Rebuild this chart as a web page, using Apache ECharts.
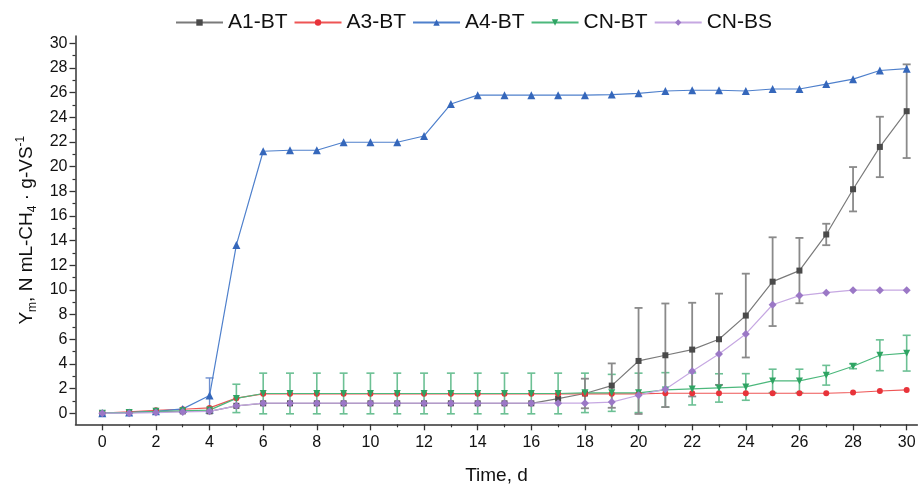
<!DOCTYPE html>
<html>
<head>
<meta charset="utf-8">
<script src="https://cdn.jsdelivr.net/npm/echarts@6/dist/echarts.min.js"></script>
<style>html,body{margin:0;padding:0;background:#fff}#c{width:920px;height:489px}</style>
</head>
<body>
<div id="c"></div>
<script>
var days = [0,1,2,3,4,5,6,7,8,9,10,11,12,13,14,15,16,17,18,19,20,21,22,23,24,25,26,27,28,29,30];
var a1 = [0,0.05,0.1,0.15,0.15,0.6,0.8,0.8,0.8,0.8,0.8,0.8,0.8,0.8,0.8,0.8,0.8,1.18,1.6,2.24,4.24,4.7,5.16,6.0,7.92,10.67,11.57,14.5,18.17,21.6,24.5];
var a1Err = [0,0,0,0,0,0,0,0,0,0,0,0,0,0,0,0,0,0,1.2,1.8,4.3,4.2,3.8,3.7,3.4,3.6,2.65,0.87,1.8,2.45,3.8];
var a3 = [0,0.1,0.24,0.32,0.43,1.22,1.57,1.57,1.57,1.57,1.57,1.57,1.57,1.57,1.57,1.57,1.57,1.57,1.57,1.57,1.57,1.62,1.62,1.62,1.62,1.62,1.62,1.62,1.68,1.8,1.89];
var a4 = [0,0.05,0.15,0.35,1.43,13.65,21.25,21.33,21.33,21.98,21.98,21.98,22.49,25.08,25.8,25.8,25.8,25.8,25.8,25.85,25.95,26.14,26.2,26.2,26.14,26.3,26.3,26.7,27.1,27.8,27.95];
var a4Err = [0,0,0,0,1.43,0,0,0,0,0,0,0,0,0,0,0,0,0,0,0,0,0,0,0,0,0,0,0,0,0,0];
var cnbt = [0,0.05,0.15,0.2,0.25,1.2,1.6,1.6,1.6,1.6,1.6,1.6,1.6,1.6,1.6,1.6,1.6,1.6,1.65,1.65,1.65,1.89,1.97,2.05,2.13,2.62,2.62,3.08,3.81,4.7,4.87];
var cnbtErr = [0,0,0,0,0,1.15,1.65,1.65,1.65,1.65,1.65,1.65,1.65,1.65,1.65,1.65,1.65,1.65,1.6,1.5,1.6,1.4,1.3,1.15,1.08,0.95,0.95,0.8,0.2,1.25,1.45];
var cnbs = [0,0,0.05,0.1,0.15,0.6,0.81,0.81,0.81,0.81,0.81,0.81,0.81,0.81,0.81,0.81,0.81,0.81,0.81,0.9,1.46,1.95,3.4,4.8,6.43,8.8,9.54,9.78,9.98,9.98,9.98];
var xMajor = [0,2,4,6,8,10,12,14,16,18,20,22,24,26,28,30];
var xMinor = [1,3,5,7,9,11,13,15,17,19,21,23,25,27,29];
var yMajor = [0,2,4,6,8,10,12,14,16,18,20,22,24,26,28,30];
var yMinor = [1,3,5,7,9,11,13,15,17,19,21,23,25,27,29];

function pairs(v){ return days.map(function(d,i){ return [d, v[i]]; }); }
function errData(v,e){ return days.map(function(d,i){ return [d, v[i], e[i]]; }); }

function errSeries(v, e, color, width){
  return {
    type: 'custom', xAxisIndex: 0, yAxisIndex: 0, z: 1, silent: true,
    data: errData(v,e),
    renderItem: function(params, api){
      var x = api.value(0), y = api.value(1), er = api.value(2);
      if (!er) return null;
      var hi = api.coord([x, y+er]), lo = api.coord([x, y-er]);
      var hw = 4;
      var st = {stroke: color, lineWidth: width};
      return {type:'group', children:[
        {type:'line', shape:{x1:hi[0],y1:hi[1],x2:lo[0],y2:lo[1]}, style:st},
        {type:'line', shape:{x1:hi[0]-hw,y1:hi[1],x2:hi[0]+hw,y2:hi[1]}, style:st},
        {type:'line', shape:{x1:lo[0]-hw,y1:lo[1],x2:lo[0]+hw,y2:lo[1]}, style:st}
      ]};
    }
  };
}

function lineSeries(name, v, lineColor, symColor, symbol, size){
  return {
    name: name, type: 'line', xAxisIndex: 0, yAxisIndex: 0, z: 3,
    data: pairs(v), symbol: symbol, symbolSize: size, showSymbol: true,
    lineStyle: {color: lineColor, width: 1.2},
    itemStyle: {color: symColor, borderWidth: 0},
    emphasis: {disabled: true}
  };
}

var downTri = 'path://M0,0 L10,0 L5,9 Z';

var chart = echarts.init(document.getElementById('c'), null, {renderer: 'canvas'});
var font = 'Liberation Sans, Arial, sans-serif';
chart.setOption({
  animation: false,
  backgroundColor: '#fff',
  textStyle: {fontFamily: font},
  legend: {
    top: 7, left: 170,
    itemWidth: 47, itemHeight: 8, itemGap: 6,
    textStyle: {fontSize: 21, color: '#111', fontFamily: font, padding: [0,0,0,0]},
    data: ['A1-BT','A3-BT','A4-BT','CN-BT','CN-BS']
  },
  grid: {left: 75.5, right: 2.6, top: 36, bottom: 64.7, containLabel: false, outerBoundsMode: 'none'},
  xAxis: [{
    type: 'value', min: -1, max: 30.4,
    name: 'Time, d', nameLocation: 'middle', nameGap: 42,
    nameTextStyle: {fontSize: 19, color: '#111', fontFamily: font},
    axisLine: {onZero: false, lineStyle: {color: '#333', width: 1.5}},
    axisTick: {show: true, inside: false, length: 6, customValues: xMajor, lineStyle:{color:'#333', width:1.3}},
    axisLabel: {customValues: xMajor, fontSize: 16, color: '#111', margin: 10, fontFamily: font},
    splitLine: {show: false}
  },{
    type: 'value', min: -1, max: 30.4, position: 'bottom',
    axisLine: {show: false, onZero: false},
    axisTick: {show: true, inside: false, length: 3, customValues: xMinor, lineStyle:{color:'#333', width:1.2}},
    axisLabel: {show: false},
    splitLine: {show: false}
  }],
  yAxis: [{
    type: 'value', min: -0.9, max: 30.6,
    name: 'Y{sub|m}, N mL-CH{sub|4} · g-VS{sup|-1}',
    nameLocation: 'middle', nameGap: 33, nameRotate: 90,
    nameTextStyle: {fontSize: 19, color: '#111', fontFamily: font, lineHeight: 24,
      rich: {
        sub: {fontSize: 12, verticalAlign: 'bottom', lineHeight: 24, color:'#111', fontFamily: font},
        sup: {fontSize: 12, verticalAlign: 'top', lineHeight: 24, color:'#111', fontFamily: font}
      }
    },
    axisLine: {show: true, onZero: false, lineStyle: {color: '#333', width: 1.5}},
    axisTick: {show: true, inside: false, length: 6, customValues: yMajor, lineStyle:{color:'#333', width:1.3}},
    axisLabel: {customValues: yMajor, fontSize: 16, color: '#111', margin: 8, fontFamily: font},
    splitLine: {show: false}
  },{
    type: 'value', min: -0.9, max: 30.6, position: 'left',
    axisLine: {show: false, onZero: false},
    axisTick: {show: true, inside: false, length: 3, customValues: yMinor, lineStyle:{color:'#333', width:1.2}},
    axisLabel: {show: false},
    splitLine: {show: false}
  }],
  series: [
    errSeries(cnbt, cnbtErr, '#6cc094', 1.6),
    errSeries(a1, a1Err, '#8a8a8a', 1.8),
    errSeries(a4, a4Err, '#6e8fcf', 1.4),
    lineSeries('A1-BT', a1, '#7a7a7a', '#4a4a4a', 'rect', 6),
    lineSeries('A3-BT', a3, '#ee5555', '#e8333a', 'circle', 6),
    lineSeries('A4-BT', a4, '#4f80cc', '#3567bb', 'triangle', 8),
    lineSeries('CN-BT', cnbt, '#4cb87c', '#2fa463', downTri, 7),
    lineSeries('CN-BS', cnbs, '#c6a8e2', '#9b78c6', 'diamond', 8)
  ]
});
</script>
</body>
</html>
